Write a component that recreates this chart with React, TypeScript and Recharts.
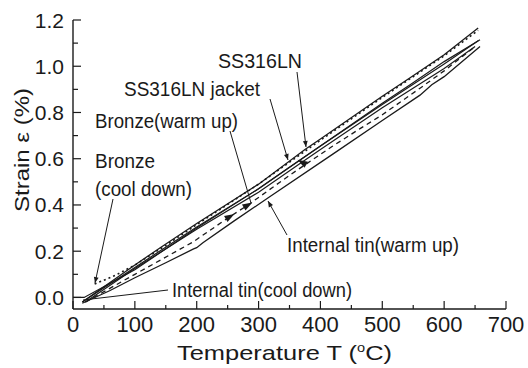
import React from 'react';
import { LineChart, Line, XAxis, YAxis, Customized } from 'recharts';

const FONT = '"Liberation Sans", Arial, Helvetica, sans-serif';
const INK = '#1a1a1a';

// Axis ticks
const xTicks = [0, 50, 100, 150, 200, 250, 300, 350, 400, 450, 500, 550, 600, 650, 700];
const xLabels = ['0', '100', '200', '300', '400', '500', '600', '700'];
const yTicks = [0, 0.1, 0.2, 0.3, 0.4, 0.5, 0.6, 0.7, 0.8, 0.9, 1.0, 1.1, 1.2];
const yLabels = ['0.0', '0.2', '0.4', '0.6', '0.8', '1.0', '1.2'];

// SS316LN (top line)
const ssT = [15, 100, 141, 200, 300, 375, 400, 500, 545, 600, 655];
const ssS = [-0.02, 0.14, 0.215, 0.32, 0.49, 0.64, 0.685, 0.87, 0.95, 1.05, 1.165];

// SS316LN jacket
const jacketT = [15, 100, 200, 300, 348, 400, 500, 545, 600, 658];
const jacketS = [-0.02, 0.13, 0.305, 0.47, 0.56, 0.655, 0.84, 0.92, 1.02, 1.115];

// SS316LN cool down branch (with direction arrow)
const ssCoolT = [20, 100, 200, 300, 370, 400, 500, 600, 650];
const ssCoolS = [-0.02, 0.125, 0.295, 0.455, 0.585, 0.64, 0.82, 0.99, 1.085];
const ssCoolArrowT = [370];

// Bronze (cool down), dotted
const bronzeCoolT = [35, 68, 100, 150, 200, 300, 400, 500, 600, 655];
const bronzeCoolS = [0.058, 0.095, 0.14, 0.225, 0.315, 0.49, 0.68, 0.865, 1.045, 1.155];

// Internal tin (cool down)
const tinCoolT = [0, 18, 100, 200, 300, 400, 500, 600, 655];
const tinCoolS = [0, 0, 0.12, 0.3, 0.47, 0.655, 0.835, 1.01, 1.11];

// Internal tin (warm up), lowest solid
const tinWarmT = [15, 60, 100, 150, 195, 200, 210, 260, 315, 420, 500, 561, 580, 600, 658];
const tinWarmS = [-0.025, 0.03, 0.085, 0.15, 0.21, 0.215, 0.237, 0.33, 0.43, 0.62, 0.765, 0.875, 0.92, 0.955, 1.085];

// Bronze (warm up), dashed
const bronzeWarmT = [20, 100, 194, 254, 283, 351, 420, 464, 500, 561, 600, 650];
const bronzeWarmS = [-0.02, 0.1, 0.24, 0.35, 0.4, 0.53, 0.655, 0.73, 0.79, 0.905, 0.98, 1.085];
const bronzeWarmArrowT = [254, 283];

const zip = (t: number[], s: number[]) => t.map((v, i) => ({ t: v, s: s[i] }));

const isMajorX = (v: number) => xLabels.includes(String(v));
const yLabelOf = (v: number) => v.toFixed(1);
const isMajorY = (v: number) => yLabels.includes(yLabelOf(v));

const BottomTick = (p: any) => {
  const v = p.payload.value;
  const major = isMajorX(v);
  return (
    <g>
      <line x1={p.x} x2={p.x} y1={p.y} y2={p.y - (major ? 8 : 4)} stroke={INK} strokeWidth={1.2} />
      {major && (
        <text x={p.x} y={p.y + 23} textAnchor="middle" fontSize={22} fontFamily={FONT} fill={INK}>
          {String(v)}
        </text>
      )}
    </g>
  );
};
const TopTick = (p: any) => {
  const major = isMajorX(p.payload.value);
  return <line x1={p.x} x2={p.x} y1={p.y} y2={p.y + (major ? 8 : 4)} stroke={INK} strokeWidth={1.2} />;
};
const LeftTick = (p: any) => {
  const v = p.payload.value;
  const major = isMajorY(v);
  return (
    <g>
      <line x1={p.x} x2={p.x + (major ? 8 : 5)} y1={p.y} y2={p.y} stroke={INK} strokeWidth={1.2} />
      {major && (
        <text x={p.x - 9} y={p.y + 7.5} textAnchor="end" fontSize={21} fontFamily={FONT} fill={INK}>
          {yLabelOf(v)}
        </text>
      )}
    </g>
  );
};
const RightTick = (p: any) => {
  const major = isMajorY(p.payload.value);
  return <line x1={p.x} x2={p.x - (major ? 8 : 5)} y1={p.y} y2={p.y} stroke={INK} strokeWidth={1.2} />;
};

const arrowDot = (marks: number[], angle: number) => (p: any) => {
  const key = `d-${p.index}`;
  if (!p.payload || !marks.includes(p.payload.t)) return <g key={key} />;
  return (
    <path
      key={key}
      d="M-5,-3.5 L5,0 L-5,3.5 Z"
      fill={INK}
      transform={`translate(${p.cx},${p.cy}) rotate(${angle})`}
    />
  );
};

type Ann = { text: string; x: number; y: number; w: number };
const annotations: Ann[] = [
  { text: 'SS316LN', x: 218, y: 68, w: 84 },
  { text: 'SS316LN jacket', x: 124, y: 96, w: 136 },
  { text: 'Bronze(warm up)', x: 95, y: 128, w: 143 },
  { text: 'Bronze', x: 95, y: 168, w: 60 },
  { text: '(cool down)', x: 95, y: 196, w: 97 },
  { text: 'Internal tin(warm up)', x: 287, y: 252, w: 172 },
  { text: 'Internal tin(cool down)', x: 172, y: 297, w: 180 },
];
const pointers = [
  { x1: 297, y1: 72, x2: 306, y2: 147, head: true },
  { x1: 270, y1: 99, x2: 288, y2: 160, head: true },
  { x1: 230, y1: 131, x2: 251, y2: 203, head: false },
  { x1: 113, y1: 199, x2: 95, y2: 283, head: true },
  { x1: 287, y1: 235, x2: 268, y2: 201, head: true },
  { x1: 168, y1: 290, x2: 83, y2: 300, head: false },
];

const Annotations = () => (
  <g>
    <defs>
      <marker id="ahead" viewBox="0 0 10 10" refX="10" refY="5" markerWidth="9" markerHeight="6" orient="auto" markerUnits="userSpaceOnUse">
        <path d="M0,1 L10,5 L0,9 Z" fill={INK} />
      </marker>
    </defs>
    {pointers.map((l, i) => (
      <line
        key={`p${i}`}
        x1={l.x1}
        y1={l.y1}
        x2={l.x2}
        y2={l.y2}
        stroke={INK}
        strokeWidth={1}
        markerEnd={l.head ? 'url(#ahead)' : undefined}
      />
    ))}
    {annotations.map((a, i) => (
      <text
        key={`a${i}`}
        x={a.x}
        y={a.y}
        fontSize={20}
        fontFamily={FONT}
        fill={INK}
        textLength={a.w}
        lengthAdjust="spacingAndGlyphs"
      >
        {a.text}
      </text>
    ))}
    <text
      x={177}
      y={360}
      fontSize={21}
      fontFamily={FONT}
      fill={INK}
      textLength={215}
      lengthAdjust="spacingAndGlyphs"
    >
      Temperature  T (<tspan dy={-8} fontSize={12}>o</tspan><tspan dy={8}>C)</tspan>
    </text>
    <text
      transform="translate(29,150) rotate(-90)"
      textAnchor="middle"
      fontSize={21}
      fontFamily={FONT}
      fill={INK}
      textLength={124}
      lengthAdjust="spacingAndGlyphs"
    >
      Strain  ε (%)
    </text>
  </g>
);

const series = [
  { id: 'ss', data: zip(ssT, ssS), dash: undefined, w: 1.3, dot: false as any },
  { id: 'jacket', data: zip(jacketT, jacketS), dash: undefined, w: 1.2, dot: false as any },
  { id: 'ssCool', data: zip(ssCoolT, ssCoolS), dash: undefined, w: 1.2, dot: arrowDot(ssCoolArrowT, 210) },
  { id: 'bronzeCool', data: zip(bronzeCoolT, bronzeCoolS), dash: '2 3', w: 1.6, dot: false as any },
  { id: 'tinCool', data: zip(tinCoolT, tinCoolS), dash: undefined, w: 1.2, dot: false as any },
  { id: 'tinWarm', data: zip(tinWarmT, tinWarmS), dash: undefined, w: 1.3, dot: false as any },
  { id: 'bronzeWarm', data: zip(bronzeWarmT, bronzeWarmS), dash: '5 4', w: 1.3, dot: arrowDot(bronzeWarmArrowT, -30) },
];

export default function App() {
  return (
    <div style={{ position: 'absolute', left: 0, top: 0, width: 528, height: 368, background: '#fff' }}>
      <LineChart width={528} height={368} margin={{ top: 20, right: 22, left: 0, bottom: 0 }}>
        <XAxis
          xAxisId="b"
          dataKey="t"
          type="number"
          domain={[0, 700]}
          ticks={xTicks}
          interval={0}
          height={59}
          tickSize={0}
          tickMargin={0}
          tickLine={false}
          tick={BottomTick}
          axisLine={{ stroke: INK, strokeWidth: 1.4 }}
          allowDataOverflow
        />
        <XAxis
          xAxisId="top"
          orientation="top"
          dataKey="t"
          type="number"
          domain={[0, 700]}
          ticks={xTicks}
          interval={0}
          height={0}
          tickSize={0}
          tickMargin={0}
          tickLine={false}
          tick={TopTick}
          axisLine={{ stroke: INK, strokeWidth: 1.4 }}
          allowDataOverflow
        />
        <YAxis
          yAxisId="l"
          type="number"
          domain={[-0.05, 1.2]}
          ticks={yTicks}
          interval={0}
          width={73}
          tickSize={0}
          tickMargin={0}
          tickLine={false}
          tick={LeftTick}
          axisLine={{ stroke: INK, strokeWidth: 1.4 }}
          allowDataOverflow
        />
        <YAxis
          yAxisId="r"
          orientation="right"
          type="number"
          domain={[-0.05, 1.2]}
          ticks={yTicks}
          interval={0}
          width={0}
          tickSize={0}
          tickMargin={0}
          tickLine={false}
          tick={RightTick}
          axisLine={{ stroke: INK, strokeWidth: 1.4 }}
          allowDataOverflow
        />
        {series.map((s) => (
          <Line
            key={s.id}
            xAxisId="b"
            yAxisId="l"
            data={s.data}
            dataKey="s"
            type="linear"
            stroke={INK}
            strokeWidth={s.w}
            strokeDasharray={s.dash}
            dot={s.dot}
            activeDot={false}
            isAnimationActive={false}
          />
        ))}
        <Customized component={Annotations} />
      </LineChart>
    </div>
  );
}
